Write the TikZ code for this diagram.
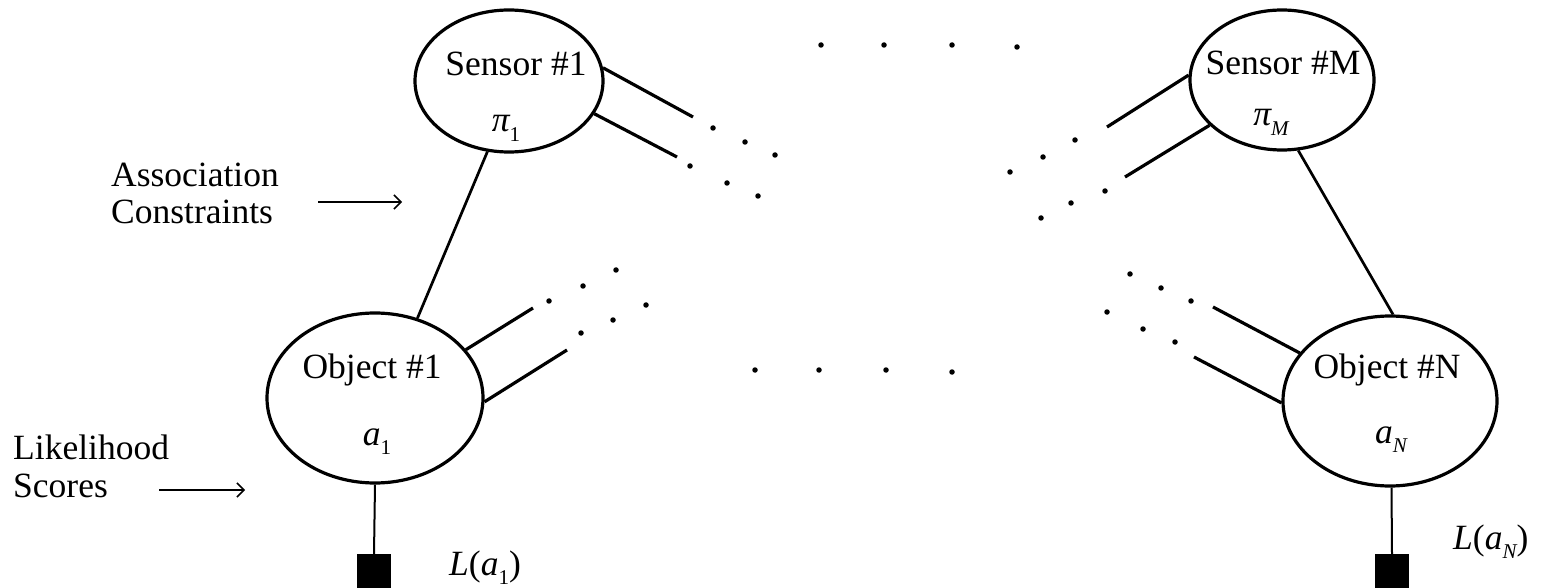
\documentclass[tikz,border=0pt]{standalone}
\usepackage{fontspec}
\setmainfont{Liberation Serif}
\usetikzlibrary{shapes.geometric,arrows.meta}
\newcommand{\mysub}[1]{\raisebox{-0.28em}{\fontsize{21}{21}\selectfont #1}}
\begin{document}
\begin{tikzpicture}[x=1pt,y=-1pt,
  ell/.style={draw, ellipse, line width=3.2pt, inner sep=0pt},
  lbl/.style={font=\fontsize{35.5}{40}\selectfont, inner sep=0pt, anchor=base},
  lbll/.style={lbl, anchor=base west},
  conn/.style={line width=3.2pt},
  mid/.style={line width=2.7pt},
  thinl/.style={line width=2pt},
  dotn/.style={circle, fill=black, inner sep=0pt, minimum size=5.5pt},
  fac/.style={rectangle, fill=black, inner sep=0pt, minimum size=34pt},
  arr/.style={line width=1.5pt, -{Straight Barb[length=7pt,width=14pt]}}
]
\useasboundingbox (0,0) rectangle (1543,588);

% variable nodes
\node[ell, minimum width=188pt, minimum height=142pt] (s1) at (509,81) {};
\node[ell, minimum width=184pt, minimum height=140pt] (sM) at (1282,80) {};
\node[ell, minimum width=216pt, minimum height=170pt] (o1) at (375,398) {};
\node[ell, minimum width=214pt, minimum height=170pt] (oN) at (1390,401) {};

% texts in the ellipses
\node[lbl] (s1t) at (516,76) {Sensor \#1};
\node[lbl] (s1v) at (506,132) {{\itshape π}\mysub{1}};
\node[lbl] (sMt) at (1283,75) {Sensor \#M};
\node[lbl] (sMv) at (1271,126) {{\itshape π}\mysub{\itshape M}};
\node[lbl] (o1t) at (372,378) {Object \#1};
\node[lbl] (o1v) at (377,445) {{\itshape a}\mysub{1}};
\node[lbl] (oNt) at (1387,378) {Object \#N};
\node[lbl] (oNv) at (1391,443) {{\itshape a}\mysub{\itshape N}};

% factor squares
\node[fac] (f1) at (374,571) {};
\node[fac] (fN) at (1392,571) {};
\node[lbll] (f1t) at (449,575) {{\itshape L}({\itshape a}\mysub{1})};
\node[lbll] (fNt) at (1453,549) {{\itshape L}({\itshape a}\mysub{\itshape N})};

% side labels
\node[lbll] (ac1) at (111,187) {Association};
\node[lbll] (ac2) at (111,224) {Constraints};
\node[lbll] (ls1) at (13,459) {Likelihood};
\node[lbll] (ls2) at (13,497) {Scores};
\coordinate (aa) at (318,202);
\coordinate (ab) at (402,202);
\coordinate (la) at (159,490);
\coordinate (lb) at (245,490);
\draw[arr] (aa) -- (ab);
\draw[arr] (la) -- (lb);

% main connectors
\draw[mid] (s1.253) -- (o1.62);
\draw[mid] (sM.283) -- (oN.88);
\draw[thinl] (o1.south) -- (f1.north);
\draw[thinl] (oN.-89) -- (fN.north);

% stubs with free ends
\coordinate (s1a) at (693,117);
\coordinate (s1b) at (677,157);
\coordinate (o1a) at (533,308);
\coordinate (o1b) at (567,350);
\coordinate (sMa) at (1107,127);
\coordinate (sMb) at (1125,177);
\coordinate (oNa) at (1213,307);
\coordinate (oNb) at (1194,357);
\draw[conn] (s1.8) -- (s1a);
\draw[conn] (s1.-21) -- (s1b);
\draw[conn] (o1.28) -- (o1a);
\draw[conn] (o1.-2) -- (o1b);
\draw[conn] (sM.177) -- (sMa);
\draw[conn] (sM.212) -- (sMb);
\draw[conn] (oN.152) -- (oNa);
\draw[conn] (oN.181) -- (oNb);

% dots
\foreach \p [count=\i] in {(713,128),(745,142),(775,155),(690,166),(727,183),(758,196),
  (549,301),(583,286),(616,270),(581,333),(613,320),(646,305),
  (1075,140),(1043,157),(1010,172),(1105,191),(1071,203),(1041,218),
  (1130,274),(1161,288),(1191,301),(1107,312),(1143,329),(1175,342),
  (821,45),(884,45),(952,45),(1017,47),
  (755,370),(819,370),(886,370),(952,372)}
  \node[dotn] (dot\i) at \p {};
\end{tikzpicture}
\end{document}
